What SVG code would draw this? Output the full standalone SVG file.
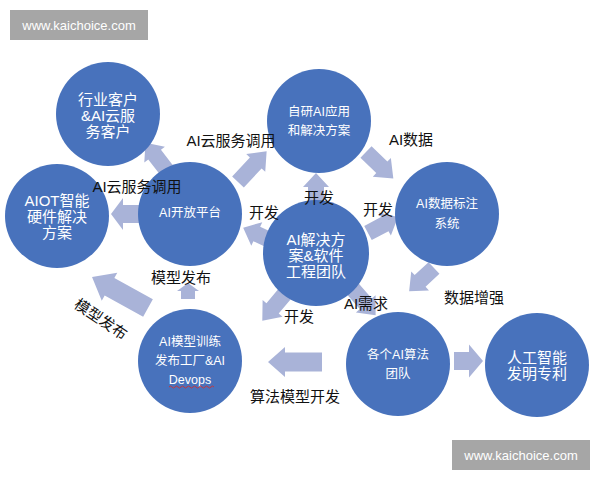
<svg xmlns="http://www.w3.org/2000/svg" width="600" height="480" viewBox="0 0 600 480">
<style>
.arr{fill:#A9B3D8}
.node circle{fill:#4872BC}
.nt{fill:#fff;font-family:"Liberation Sans","Noto Sans CJK SC",sans-serif;text-anchor:middle;dominant-baseline:central}
.lb{fill:#111;font-family:"Liberation Sans","Noto Sans CJK SC",sans-serif;font-size:15px;text-anchor:middle;dominant-baseline:central}
.wm rect{fill:#A6A6A6}
.wm text{fill:#fff;font-family:"Liberation Sans",sans-serif;font-size:13px;text-anchor:middle;dominant-baseline:central}
</style>
<rect width="600" height="480" fill="#fff"/>
<g id="connectors">
<path class="arr" transform="translate(168,172) rotate(-127.5)" d="M0,-8H22V-13L37,0L22,13V8H0Z"/>
<path class="arr" transform="translate(238,182) rotate(-47)" d="M0,-8H26V-13L42,0L26,13V8H0Z"/>
<path class="arr" transform="translate(140,214) rotate(180)" d="M0,-9H17V-16L29,0L17,16V9H0Z"/>
<path class="arr" transform="translate(366,152) rotate(44)" d="M0,-8H22V-13L38,0L22,13V8H0Z"/>
<path class="arr" transform="translate(316,205) rotate(-90)" d="M0,-8H18V-13L32,0L18,13V8H0Z"/>
<path class="arr" transform="translate(274,242) rotate(205)" d="M0,-8H19V-13L34,0L19,13V8H0Z"/>
<path class="arr" transform="translate(368,233) rotate(-28)" d="M0,-8H19V-13L34,0L19,13V8H0Z"/>
<path class="arr" transform="translate(434,268) rotate(137)" d="M0,-8H19V-13L34,0L19,13V8H0Z"/>
<path class="arr" transform="translate(352,288) rotate(49)" d="M0,-8H21V-13L36,0L21,13V8H0Z"/>
<path class="arr" transform="translate(288,290) rotate(130)" d="M0,-8H24V-13L40,0L24,13V8H0Z"/>
<path class="arr" transform="translate(322,362) rotate(180)" d="M0,-9.5H37V-15L54,0L37,15V9.5H0Z"/>
<path class="arr" transform="translate(454,361)" d="M0,-9H15V-16.5L29,0L15,16.5V9H0Z"/>
<path class="arr" transform="translate(188,299) rotate(-90)" d="M0,-7H8V-11L16,0L8,11V7H0Z"/>
<path class="arr" transform="translate(148,308) rotate(209)" d="M0,-10H44V-16L64,0L44,16V10H0Z"/>
</g>
<g id="n-customers" class="node">
<circle cx="108" cy="114" r="52"/>
<text class="nt" font-size="15" x="108"><tspan x="108" y="99">行业客户</tspan><tspan x="108" y="115">&amp;AI云服</tspan><tspan x="108" y="131">务客户</tspan></text>
</g>
<g id="n-selfdev" class="node">
<circle cx="319" cy="121" r="52"/>
<text class="nt" font-size="12.5"><tspan x="319" y="112">自研AI应用</tspan><tspan x="319" y="131">和解决方案</tspan></text>
</g>
<g id="n-aiot" class="node">
<circle cx="57" cy="216" r="52"/>
<text class="nt" font-size="15"><tspan x="57" y="200">AIOT智能</tspan><tspan x="57" y="216">硬件解决</tspan><tspan x="57" y="232">方案</tspan></text>
</g>
<g id="n-platform" class="node">
<circle cx="190" cy="214" r="52"/>
<text class="nt" font-size="12.5" x="190" y="213">AI开放平台</text>
</g>
<g id="n-label" class="node">
<circle cx="447" cy="214" r="52"/>
<text class="nt" font-size="12.5"><tspan x="447" y="204">AI数据标注</tspan><tspan x="447" y="224">系统</tspan></text>
</g>
<g id="n-solution" class="node">
<circle cx="316" cy="253" r="53"/>
<text class="nt" font-size="15"><tspan x="316" y="239">AI解决方</tspan><tspan x="316" y="255">案&amp;软件</tspan><tspan x="316" y="271">工程团队</tspan></text>
</g>
<g id="n-factory" class="node">
<circle cx="190" cy="361" r="52"/>
<text class="nt" font-size="12.5"><tspan x="190" y="342">AI模型训练</tspan><tspan x="190" y="361">发布工厂&amp;AI</tspan><tspan x="190" y="380">Devops</tspan></text>
<path d="M169,387q1.5,-2 3,0t3,0t3,0t3,0t3,0t3,0t3,0t3,0t3,0t3,0t3,0t3,0t3,0t3,0t3,0" fill="none" stroke="#D03030" stroke-width="0.9"/>
</g>
<g id="n-algo" class="node">
<circle cx="398" cy="364" r="52"/>
<text class="nt" font-size="12.5"><tspan x="398" y="355">各个AI算法</tspan><tspan x="398" y="374">团队</tspan></text>
</g>
<g id="n-patent" class="node">
<circle cx="537" cy="365" r="52"/>
<text class="nt" font-size="15"><tspan x="537" y="357">人工智能</tspan><tspan x="537" y="373">发明专利</tspan></text>
</g>
<g id="labels">
<text class="lb" x="231" y="140">AI云服务调用</text>
<text class="lb" x="137" y="186">AI云服务调用</text>
<text class="lb" x="264" y="212">开发</text>
<text class="lb" x="319" y="197">开发</text>
<text class="lb" x="411" y="139">AI数据</text>
<text class="lb" x="378" y="209">开发</text>
<text class="lb" x="474" y="297">数据增强</text>
<text class="lb" x="366" y="303">AI需求</text>
<text class="lb" x="299" y="316">开发</text>
<text class="lb" x="295" y="396">算法模型开发</text>
<text class="lb" x="181" y="277">模型发布</text>
<text class="lb" transform="translate(101,319) rotate(34)">模型发布</text>
</g>
<g id="watermark-top" class="wm">
<rect x="10" y="10" width="138" height="30"/>
<text x="79" y="25">www.kaichoice.com</text>
</g>
<g id="watermark-bottom" class="wm">
<rect x="452" y="440" width="138" height="30"/>
<text x="521" y="455">www.kaichoice.com</text>
</g>
</svg>
